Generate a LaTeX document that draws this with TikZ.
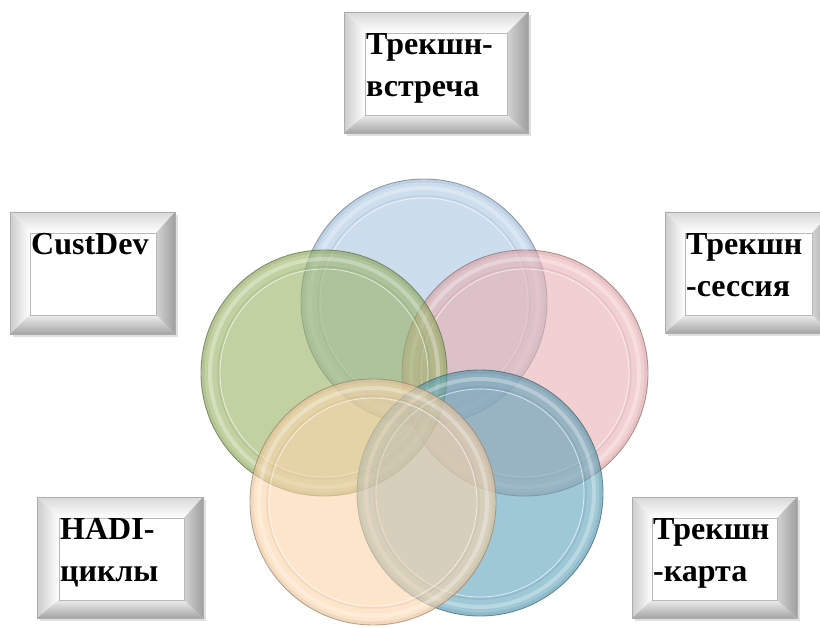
\documentclass[tikz,border=0pt]{standalone}
\usepackage{fontspec}
\setmainfont{Liberation Serif}
\definecolor{cBlue}{RGB}{170,198,227}
\definecolor{cPink}{RGB}{233,175,178}
\definecolor{cGreen}{RGB}{152,178,100}
\definecolor{cTeal}{RGB}{93,163,187}
\definecolor{cPeach}{RGB}{252,212,170}
\tikzset{
  lbl/.style={anchor=north west, inner sep=0pt, align=left, font=\fontsize{32}{42}\selectfont\bfseries},
  gcirc/.style={circle, minimum size=246pt, inner sep=0pt, fill opacity=0.6, draw opacity=0.7, line width=0.9pt},
}
\newcommand\bevbox[8]{%
  \fill[black, opacity=0.12] (#1+3,#2+3) rectangle (#3+3,#4+3);
  \shade[top color=gray!30, bottom color=white] (#1,#2) -- (#3,#2) -- (#7,#6) -- (#5,#6) -- cycle;
  \shade[left color=gray!40, right color=white] (#1,#2) -- (#5,#6) -- (#5,#8) -- (#1,#4) -- cycle;
  \shade[left color=gray!35, right color=gray!75] (#3,#2) -- (#7,#6) -- (#7,#8) -- (#3,#4) -- cycle;
  \shade[top color=gray!15, bottom color=gray!70] (#1,#4) -- (#5,#8) -- (#7,#8) -- (#3,#4) -- cycle;
  \draw[gray!65, line width=0.6pt] (#1,#2) rectangle (#3,#4);
  \draw[gray!55, fill=white, line width=0.8pt] (#5,#6) rectangle (#7,#8);
}
\newcommand\glass[3]{%
  \node[gcirc, fill=#3, draw=#3!60!black] (#1) at (#2) {};
  \draw[#3!70!black, opacity=0.15, line width=3pt] (#1.center) circle[radius=121pt];
  \draw[white, opacity=0.3, line width=4pt] (#1.center) circle[radius=114pt];
  \draw[#3!70!black, opacity=0.15, line width=1.5pt] (#1.center) circle[radius=106pt];
  \draw[white, opacity=0.7, line width=0.7pt] (#1.center) circle[radius=104pt];
}
\begin{document}
\begin{tikzpicture}[x=1pt, y=-1pt]
\useasboundingbox (0,0) rectangle (820,628);
% boxes
\bevbox{344}{12}{528}{133}{365}{33}{507}{115}
\bevbox{10}{212}{175}{334}{30}{233}{156}{315}
\bevbox{665}{212}{832}{333}{685}{233}{812}{315}
\bevbox{37}{497}{203}{618}{59}{518}{184}{600}
\bevbox{632}{497}{797}{618}{652}{518}{777}{600}
\node[lbl] (tA) at (366,33) {Трекшн-\\встреча};
\node[lbl] (tB) at (31,233) {CustDev};
\node[lbl] (tC) at (686,233) {Трекшн\\-сессия};
\node[lbl] (tD) at (60,518) {HADI-\\циклы};
\node[lbl] (tE) at (653,518) {Трекшн\\-карта};
% circles
\glass{cb}{424,302}{cBlue}
\glass{cp}{525,373}{cPink}
\glass{cg}{324,373}{cGreen}
\glass{ct}{480,493}{cTeal}
\glass{ce}{373,502}{cPeach}
\end{tikzpicture}
\end{document}
